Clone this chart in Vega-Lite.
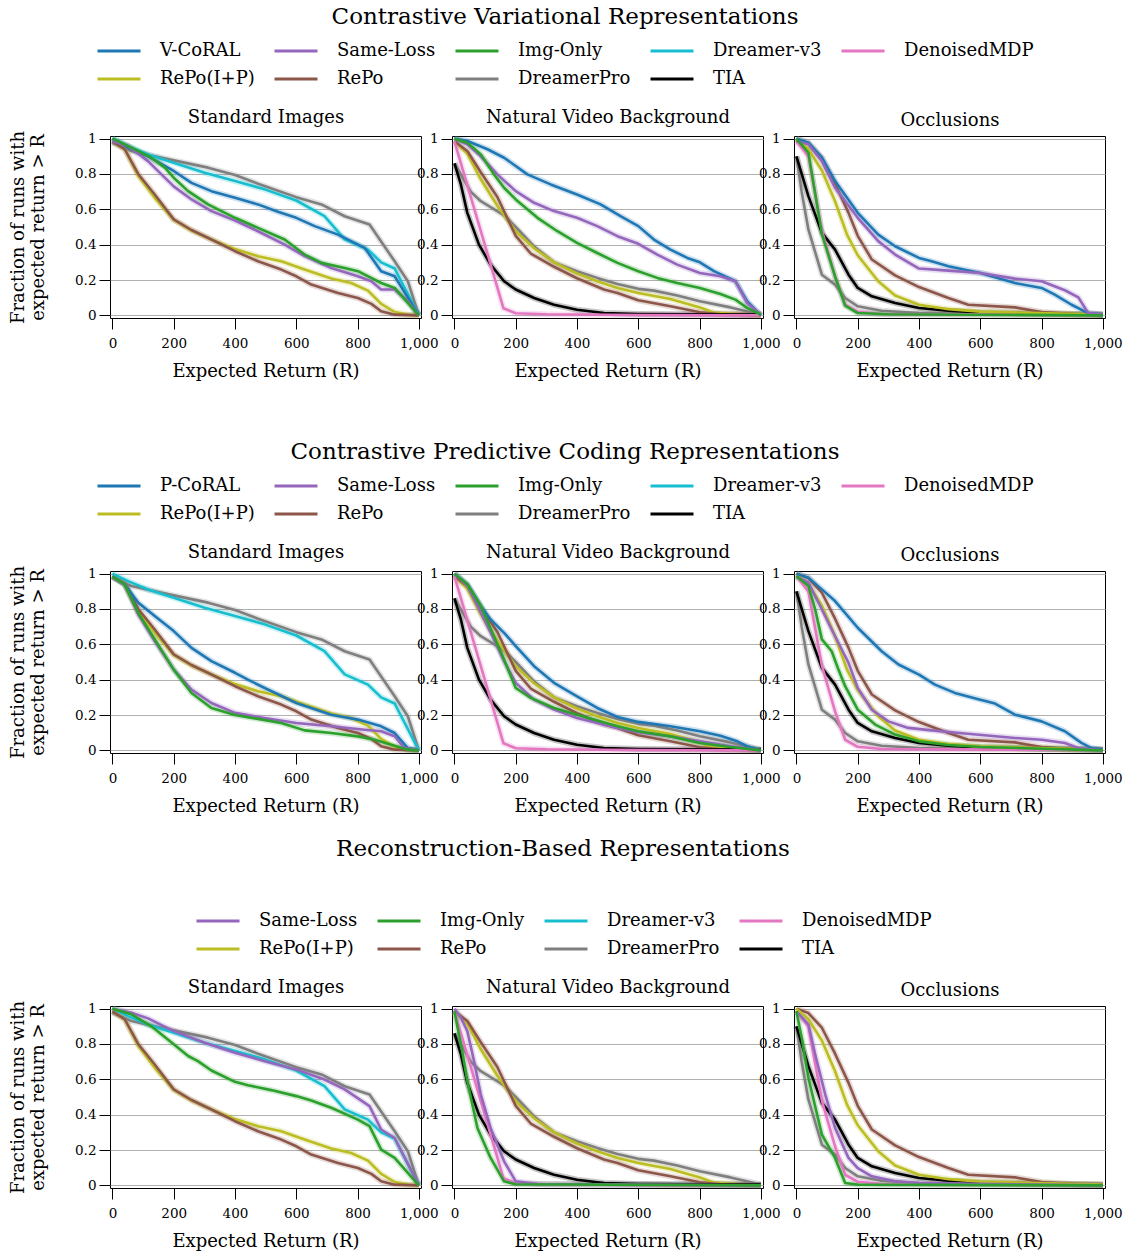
{
  "$schema": "https://vega.github.io/schema/vega-lite/v6.json",
  "padding": {"left": 9, "top": 5, "right": 2, "bottom": 2},
  "datasets": {
    "runs": [
      {"s":"B","p":"SI","m":"DreamerPro","r":0,"f":0.977},{"s":"B","p":"SI","m":"DreamerPro","r":62,"f":0.93},{"s":"B","p":"SI","m":"DreamerPro","r":127,"f":0.905},{"s":"B","p":"SI","m":"DreamerPro","r":200,"f":0.877},{"s":"B","p":"SI","m":"DreamerPro","r":312,"f":0.836},{"s":"B","p":"SI","m":"DreamerPro","r":400,"f":0.794},{"s":"B","p":"SI","m":"DreamerPro","r":475,"f":0.745},{"s":"B","p":"SI","m":"DreamerPro","r":600,"f":0.669},{"s":"B","p":"SI","m":"DreamerPro","r":682,"f":0.628},{"s":"B","p":"SI","m":"DreamerPro","r":758,"f":0.561},{"s":"B","p":"SI","m":"DreamerPro","r":839,"f":0.514},{"s":"B","p":"SI","m":"DreamerPro","r":921,"f":0.306},{"s":"B","p":"SI","m":"DreamerPro","r":964,"f":0.193},{"s":"B","p":"SI","m":"DreamerPro","r":1000,"f":0},
      {"s":"B","p":"SI","m":"Dreamer-v3","r":0,"f":1},{"s":"B","p":"SI","m":"Dreamer-v3","r":51,"f":0.958},{"s":"B","p":"SI","m":"Dreamer-v3","r":116,"f":0.91},{"s":"B","p":"SI","m":"Dreamer-v3","r":200,"f":0.864},{"s":"B","p":"SI","m":"Dreamer-v3","r":301,"f":0.807},{"s":"B","p":"SI","m":"Dreamer-v3","r":400,"f":0.76},{"s":"B","p":"SI","m":"Dreamer-v3","r":497,"f":0.713},{"s":"B","p":"SI","m":"Dreamer-v3","r":600,"f":0.65},{"s":"B","p":"SI","m":"Dreamer-v3","r":692,"f":0.561},{"s":"B","p":"SI","m":"Dreamer-v3","r":758,"f":0.43},{"s":"B","p":"SI","m":"Dreamer-v3","r":834,"f":0.372},{"s":"B","p":"SI","m":"Dreamer-v3","r":877,"f":0.3},{"s":"B","p":"SI","m":"Dreamer-v3","r":921,"f":0.265},{"s":"B","p":"SI","m":"Dreamer-v3","r":1000,"f":0},
      {"s":"B","p":"SI","m":"RePo(I+P)","r":0,"f":0.985},{"s":"B","p":"SI","m":"RePo(I+P)","r":40,"f":0.94},{"s":"B","p":"SI","m":"RePo(I+P)","r":84,"f":0.79},{"s":"B","p":"SI","m":"RePo(I+P)","r":138,"f":0.665},{"s":"B","p":"SI","m":"RePo(I+P)","r":200,"f":0.54},{"s":"B","p":"SI","m":"RePo(I+P)","r":258,"f":0.48},{"s":"B","p":"SI","m":"RePo(I+P)","r":323,"f":0.429},{"s":"B","p":"SI","m":"RePo(I+P)","r":400,"f":0.375},{"s":"B","p":"SI","m":"RePo(I+P)","r":475,"f":0.335},{"s":"B","p":"SI","m":"RePo(I+P)","r":551,"f":0.306},{"s":"B","p":"SI","m":"RePo(I+P)","r":627,"f":0.259},{"s":"B","p":"SI","m":"RePo(I+P)","r":714,"f":0.208},{"s":"B","p":"SI","m":"RePo(I+P)","r":779,"f":0.183},{"s":"B","p":"SI","m":"RePo(I+P)","r":834,"f":0.14},{"s":"B","p":"SI","m":"RePo(I+P)","r":877,"f":0.065},{"s":"B","p":"SI","m":"RePo(I+P)","r":921,"f":0.019},{"s":"B","p":"SI","m":"RePo(I+P)","r":964,"f":0.004},{"s":"B","p":"SI","m":"RePo(I+P)","r":1000,"f":0},
      {"s":"B","p":"SI","m":"RePo","r":0,"f":0.985},{"s":"B","p":"SI","m":"RePo","r":40,"f":0.94},{"s":"B","p":"SI","m":"RePo","r":84,"f":0.8},{"s":"B","p":"SI","m":"RePo","r":138,"f":0.684},{"s":"B","p":"SI","m":"RePo","r":200,"f":0.543},{"s":"B","p":"SI","m":"RePo","r":258,"f":0.483},{"s":"B","p":"SI","m":"RePo","r":323,"f":0.429},{"s":"B","p":"SI","m":"RePo","r":400,"f":0.363},{"s":"B","p":"SI","m":"RePo","r":475,"f":0.306},{"s":"B","p":"SI","m":"RePo","r":551,"f":0.259},{"s":"B","p":"SI","m":"RePo","r":600,"f":0.221},{"s":"B","p":"SI","m":"RePo","r":649,"f":0.174},{"s":"B","p":"SI","m":"RePo","r":736,"f":0.127},{"s":"B","p":"SI","m":"RePo","r":801,"f":0.098},{"s":"B","p":"SI","m":"RePo","r":845,"f":0.065},{"s":"B","p":"SI","m":"RePo","r":877,"f":0.023},{"s":"B","p":"SI","m":"RePo","r":921,"f":0.004},{"s":"B","p":"SI","m":"RePo","r":1000,"f":0},

      {"s":"B","p":"NV","m":"DreamerPro","r":0,"f":0.86},{"s":"B","p":"NV","m":"DreamerPro","r":21,"f":0.798},{"s":"B","p":"NV","m":"DreamerPro","r":53,"f":0.7},{"s":"B","p":"NV","m":"DreamerPro","r":86,"f":0.646},{"s":"B","p":"NV","m":"DreamerPro","r":130,"f":0.6},{"s":"B","p":"NV","m":"DreamerPro","r":162,"f":0.565},{"s":"B","p":"NV","m":"DreamerPro","r":200,"f":0.5},{"s":"B","p":"NV","m":"DreamerPro","r":260,"f":0.39},{"s":"B","p":"NV","m":"DreamerPro","r":325,"f":0.3},{"s":"B","p":"NV","m":"DreamerPro","r":400,"f":0.25},{"s":"B","p":"NV","m":"DreamerPro","r":466,"f":0.212},{"s":"B","p":"NV","m":"DreamerPro","r":532,"f":0.178},{"s":"B","p":"NV","m":"DreamerPro","r":600,"f":0.15},{"s":"B","p":"NV","m":"DreamerPro","r":651,"f":0.14},{"s":"B","p":"NV","m":"DreamerPro","r":727,"f":0.112},{"s":"B","p":"NV","m":"DreamerPro","r":801,"f":0.08},{"s":"B","p":"NV","m":"DreamerPro","r":901,"f":0.045},{"s":"B","p":"NV","m":"DreamerPro","r":1000,"f":0.005},
      {"s":"B","p":"NV","m":"RePo(I+P)","r":0,"f":0.985},{"s":"B","p":"NV","m":"RePo(I+P)","r":42,"f":0.915},{"s":"B","p":"NV","m":"RePo(I+P)","r":86,"f":0.77},{"s":"B","p":"NV","m":"RePo(I+P)","r":140,"f":0.62},{"s":"B","p":"NV","m":"RePo(I+P)","r":200,"f":0.476},{"s":"B","p":"NV","m":"RePo(I+P)","r":260,"f":0.38},{"s":"B","p":"NV","m":"RePo(I+P)","r":325,"f":0.3},{"s":"B","p":"NV","m":"RePo(I+P)","r":400,"f":0.237},{"s":"B","p":"NV","m":"RePo(I+P)","r":466,"f":0.193},{"s":"B","p":"NV","m":"RePo(I+P)","r":532,"f":0.155},{"s":"B","p":"NV","m":"RePo(I+P)","r":600,"f":0.127},{"s":"B","p":"NV","m":"RePo(I+P)","r":705,"f":0.092},{"s":"B","p":"NV","m":"RePo(I+P)","r":801,"f":0.045},{"s":"B","p":"NV","m":"RePo(I+P)","r":847,"f":0.015},{"s":"B","p":"NV","m":"RePo(I+P)","r":1000,"f":0},
      {"s":"B","p":"NV","m":"RePo","r":0,"f":0.985},{"s":"B","p":"NV","m":"RePo","r":42,"f":0.93},{"s":"B","p":"NV","m":"RePo","r":86,"f":0.81},{"s":"B","p":"NV","m":"RePo","r":140,"f":0.67},{"s":"B","p":"NV","m":"RePo","r":200,"f":0.45},{"s":"B","p":"NV","m":"RePo","r":249,"f":0.35},{"s":"B","p":"NV","m":"RePo","r":325,"f":0.275},{"s":"B","p":"NV","m":"RePo","r":400,"f":0.21},{"s":"B","p":"NV","m":"RePo","r":488,"f":0.146},{"s":"B","p":"NV","m":"RePo","r":532,"f":0.127},{"s":"B","p":"NV","m":"RePo","r":600,"f":0.085},{"s":"B","p":"NV","m":"RePo","r":705,"f":0.051},{"s":"B","p":"NV","m":"RePo","r":801,"f":0.017},{"s":"B","p":"NV","m":"RePo","r":868,"f":0.006},{"s":"B","p":"NV","m":"RePo","r":1000,"f":0},
      {"s":"B","p":"NV","m":"TIA","r":0,"f":0.86},{"s":"B","p":"NV","m":"TIA","r":21,"f":0.741},{"s":"B","p":"NV","m":"TIA","r":42,"f":0.58},{"s":"B","p":"NV","m":"TIA","r":80,"f":0.4},{"s":"B","p":"NV","m":"TIA","r":118,"f":0.287},{"s":"B","p":"NV","m":"TIA","r":162,"f":0.193},{"s":"B","p":"NV","m":"TIA","r":200,"f":0.146},{"s":"B","p":"NV","m":"TIA","r":260,"f":0.098},{"s":"B","p":"NV","m":"TIA","r":325,"f":0.06},{"s":"B","p":"NV","m":"TIA","r":400,"f":0.032},{"s":"B","p":"NV","m":"TIA","r":488,"f":0.013},{"s":"B","p":"NV","m":"TIA","r":600,"f":0.008},{"s":"B","p":"NV","m":"TIA","r":1000,"f":0.004},
      {"s":"B","p":"NV","m":"DenoisedMDP","r":0,"f":0.985},{"s":"B","p":"NV","m":"DenoisedMDP","r":160,"f":0.04},{"s":"B","p":"NV","m":"DenoisedMDP","r":200,"f":0.012},{"s":"B","p":"NV","m":"DenoisedMDP","r":300,"f":0.006},{"s":"B","p":"NV","m":"DenoisedMDP","r":600,"f":0.002},{"s":"B","p":"NV","m":"DenoisedMDP","r":1000,"f":0},

      {"s":"B","p":"OC","m":"DreamerPro","r":0,"f":0.9},{"s":"B","p":"OC","m":"DreamerPro","r":17,"f":0.7},{"s":"B","p":"OC","m":"DreamerPro","r":39,"f":0.486},{"s":"B","p":"OC","m":"DreamerPro","r":83,"f":0.23},{"s":"B","p":"OC","m":"DreamerPro","r":126,"f":0.174},{"s":"B","p":"OC","m":"DreamerPro","r":159,"f":0.098},{"s":"B","p":"OC","m":"DreamerPro","r":200,"f":0.051},{"s":"B","p":"OC","m":"DreamerPro","r":278,"f":0.026},{"s":"B","p":"OC","m":"DreamerPro","r":400,"f":0.013},{"s":"B","p":"OC","m":"DreamerPro","r":1000,"f":0.004},
      {"s":"B","p":"OC","m":"TIA","r":0,"f":0.9},{"s":"B","p":"OC","m":"TIA","r":39,"f":0.675},{"s":"B","p":"OC","m":"TIA","r":83,"f":0.467},{"s":"B","p":"OC","m":"TIA","r":126,"f":0.372},{"s":"B","p":"OC","m":"TIA","r":170,"f":0.23},{"s":"B","p":"OC","m":"TIA","r":200,"f":0.155},{"s":"B","p":"OC","m":"TIA","r":246,"f":0.108},{"s":"B","p":"OC","m":"TIA","r":322,"f":0.07},{"s":"B","p":"OC","m":"TIA","r":400,"f":0.042},{"s":"B","p":"OC","m":"TIA","r":496,"f":0.026},{"s":"B","p":"OC","m":"TIA","r":600,"f":0.017},{"s":"B","p":"OC","m":"TIA","r":800,"f":0.009},{"s":"B","p":"OC","m":"TIA","r":1000,"f":0.004},
      {"s":"B","p":"OC","m":"DenoisedMDP","r":0,"f":0.985},{"s":"B","p":"OC","m":"DenoisedMDP","r":39,"f":0.9},{"s":"B","p":"OC","m":"DenoisedMDP","r":83,"f":0.48},{"s":"B","p":"OC","m":"DenoisedMDP","r":126,"f":0.22},{"s":"B","p":"OC","m":"DenoisedMDP","r":159,"f":0.06},{"s":"B","p":"OC","m":"DenoisedMDP","r":200,"f":0.02},{"s":"B","p":"OC","m":"DenoisedMDP","r":278,"f":0.008},{"s":"B","p":"OC","m":"DenoisedMDP","r":1000,"f":0.002},
      {"s":"B","p":"OC","m":"RePo","r":0,"f":1},{"s":"B","p":"OC","m":"RePo","r":39,"f":0.975},{"s":"B","p":"OC","m":"RePo","r":83,"f":0.892},{"s":"B","p":"OC","m":"RePo","r":126,"f":0.745},{"s":"B","p":"OC","m":"RePo","r":170,"f":0.58},{"s":"B","p":"OC","m":"RePo","r":200,"f":0.45},{"s":"B","p":"OC","m":"RePo","r":246,"f":0.316},{"s":"B","p":"OC","m":"RePo","r":322,"f":0.226},{"s":"B","p":"OC","m":"RePo","r":400,"f":0.16},{"s":"B","p":"OC","m":"RePo","r":496,"f":0.098},{"s":"B","p":"OC","m":"RePo","r":561,"f":0.06},{"s":"B","p":"OC","m":"RePo","r":713,"f":0.045},{"s":"B","p":"OC","m":"RePo","r":800,"f":0.019},{"s":"B","p":"OC","m":"RePo","r":898,"f":0.008},{"s":"B","p":"OC","m":"RePo","r":1000,"f":0.004},
      {"s":"B","p":"OC","m":"RePo(I+P)","r":0,"f":1},{"s":"B","p":"OC","m":"RePo(I+P)","r":39,"f":0.94},{"s":"B","p":"OC","m":"RePo(I+P)","r":83,"f":0.82},{"s":"B","p":"OC","m":"RePo(I+P)","r":126,"f":0.646},{"s":"B","p":"OC","m":"RePo(I+P)","r":165,"f":0.457},{"s":"B","p":"OC","m":"RePo(I+P)","r":200,"f":0.34},{"s":"B","p":"OC","m":"RePo(I+P)","r":267,"f":0.193},{"s":"B","p":"OC","m":"RePo(I+P)","r":322,"f":0.112},{"s":"B","p":"OC","m":"RePo(I+P)","r":400,"f":0.06},{"s":"B","p":"OC","m":"RePo(I+P)","r":496,"f":0.035},{"s":"B","p":"OC","m":"RePo(I+P)","r":600,"f":0.021},{"s":"B","p":"OC","m":"RePo(I+P)","r":1000,"f":0.004},

      {"s":"CV","p":"SI","m":"V-CoRAL","r":0,"f":1},{"s":"CV","p":"SI","m":"V-CoRAL","r":62,"f":0.94},{"s":"CV","p":"SI","m":"V-CoRAL","r":116,"f":0.9},{"s":"CV","p":"SI","m":"V-CoRAL","r":200,"f":0.817},{"s":"CV","p":"SI","m":"V-CoRAL","r":258,"f":0.75},{"s":"CV","p":"SI","m":"V-CoRAL","r":323,"f":0.703},{"s":"CV","p":"SI","m":"V-CoRAL","r":400,"f":0.665},{"s":"CV","p":"SI","m":"V-CoRAL","r":475,"f":0.628},{"s":"CV","p":"SI","m":"V-CoRAL","r":540,"f":0.586},{"s":"CV","p":"SI","m":"V-CoRAL","r":600,"f":0.552},{"s":"CV","p":"SI","m":"V-CoRAL","r":660,"f":0.505},{"s":"CV","p":"SI","m":"V-CoRAL","r":736,"f":0.457},{"s":"CV","p":"SI","m":"V-CoRAL","r":823,"f":0.382},{"s":"CV","p":"SI","m":"V-CoRAL","r":877,"f":0.25},{"s":"CV","p":"SI","m":"V-CoRAL","r":921,"f":0.221},{"s":"CV","p":"SI","m":"V-CoRAL","r":1000,"f":0},
      {"s":"CV","p":"SI","m":"Same-Loss","r":0,"f":0.985},{"s":"CV","p":"SI","m":"Same-Loss","r":51,"f":0.958},{"s":"CV","p":"SI","m":"Same-Loss","r":116,"f":0.873},{"s":"CV","p":"SI","m":"Same-Loss","r":200,"f":0.73},{"s":"CV","p":"SI","m":"Same-Loss","r":258,"f":0.656},{"s":"CV","p":"SI","m":"Same-Loss","r":323,"f":0.59},{"s":"CV","p":"SI","m":"Same-Loss","r":400,"f":0.537},{"s":"CV","p":"SI","m":"Same-Loss","r":475,"f":0.476},{"s":"CV","p":"SI","m":"Same-Loss","r":562,"f":0.4},{"s":"CV","p":"SI","m":"Same-Loss","r":627,"f":0.335},{"s":"CV","p":"SI","m":"Same-Loss","r":714,"f":0.268},{"s":"CV","p":"SI","m":"Same-Loss","r":801,"f":0.221},{"s":"CV","p":"SI","m":"Same-Loss","r":845,"f":0.193},{"s":"CV","p":"SI","m":"Same-Loss","r":877,"f":0.146},{"s":"CV","p":"SI","m":"Same-Loss","r":921,"f":0.146},{"s":"CV","p":"SI","m":"Same-Loss","r":964,"f":0.08},{"s":"CV","p":"SI","m":"Same-Loss","r":1000,"f":0},
      {"s":"CV","p":"SI","m":"Img-Only","r":0,"f":1},{"s":"CV","p":"SI","m":"Img-Only","r":62,"f":0.949},{"s":"CV","p":"SI","m":"Img-Only","r":127,"f":0.892},{"s":"CV","p":"SI","m":"Img-Only","r":171,"f":0.836},{"s":"CV","p":"SI","m":"Img-Only","r":200,"f":0.779},{"s":"CV","p":"SI","m":"Img-Only","r":247,"f":0.703},{"s":"CV","p":"SI","m":"Img-Only","r":312,"f":0.628},{"s":"CV","p":"SI","m":"Img-Only","r":400,"f":0.552},{"s":"CV","p":"SI","m":"Img-Only","r":475,"f":0.495},{"s":"CV","p":"SI","m":"Img-Only","r":562,"f":0.429},{"s":"CV","p":"SI","m":"Img-Only","r":627,"f":0.344},{"s":"CV","p":"SI","m":"Img-Only","r":682,"f":0.297},{"s":"CV","p":"SI","m":"Img-Only","r":758,"f":0.268},{"s":"CV","p":"SI","m":"Img-Only","r":801,"f":0.25},{"s":"CV","p":"SI","m":"Img-Only","r":877,"f":0.183},{"s":"CV","p":"SI","m":"Img-Only","r":921,"f":0.155},{"s":"CV","p":"SI","m":"Img-Only","r":1000,"f":0},
      {"s":"CV","p":"NV","m":"V-CoRAL","r":0,"f":1},{"s":"CV","p":"NV","m":"V-CoRAL","r":42,"f":0.987},{"s":"CV","p":"NV","m":"V-CoRAL","r":108,"f":0.94},{"s":"CV","p":"NV","m":"V-CoRAL","r":162,"f":0.892},{"s":"CV","p":"NV","m":"V-CoRAL","r":238,"f":0.798},{"s":"CV","p":"NV","m":"V-CoRAL","r":314,"f":0.741},{"s":"CV","p":"NV","m":"V-CoRAL","r":400,"f":0.684},{"s":"CV","p":"NV","m":"V-CoRAL","r":477,"f":0.628},{"s":"CV","p":"NV","m":"V-CoRAL","r":542,"f":0.561},{"s":"CV","p":"NV","m":"V-CoRAL","r":600,"f":0.505},{"s":"CV","p":"NV","m":"V-CoRAL","r":651,"f":0.429},{"s":"CV","p":"NV","m":"V-CoRAL","r":705,"f":0.372},{"s":"CV","p":"NV","m":"V-CoRAL","r":760,"f":0.325},{"s":"CV","p":"NV","m":"V-CoRAL","r":801,"f":0.3},{"s":"CV","p":"NV","m":"V-CoRAL","r":847,"f":0.25},{"s":"CV","p":"NV","m":"V-CoRAL","r":917,"f":0.193},{"s":"CV","p":"NV","m":"V-CoRAL","r":955,"f":0.08},{"s":"CV","p":"NV","m":"V-CoRAL","r":993,"f":0.013},{"s":"CV","p":"NV","m":"V-CoRAL","r":1000,"f":0},
      {"s":"CV","p":"NV","m":"Same-Loss","r":0,"f":1},{"s":"CV","p":"NV","m":"Same-Loss","r":42,"f":0.968},{"s":"CV","p":"NV","m":"Same-Loss","r":86,"f":0.9},{"s":"CV","p":"NV","m":"Same-Loss","r":140,"f":0.798},{"s":"CV","p":"NV","m":"Same-Loss","r":200,"f":0.703},{"s":"CV","p":"NV","m":"Same-Loss","r":260,"f":0.637},{"s":"CV","p":"NV","m":"Same-Loss","r":325,"f":0.59},{"s":"CV","p":"NV","m":"Same-Loss","r":400,"f":0.552},{"s":"CV","p":"NV","m":"Same-Loss","r":466,"f":0.505},{"s":"CV","p":"NV","m":"Same-Loss","r":532,"f":0.448},{"s":"CV","p":"NV","m":"Same-Loss","r":600,"f":0.405},{"s":"CV","p":"NV","m":"Same-Loss","r":662,"f":0.344},{"s":"CV","p":"NV","m":"Same-Loss","r":727,"f":0.287},{"s":"CV","p":"NV","m":"Same-Loss","r":801,"f":0.24},{"s":"CV","p":"NV","m":"Same-Loss","r":868,"f":0.221},{"s":"CV","p":"NV","m":"Same-Loss","r":917,"f":0.193},{"s":"CV","p":"NV","m":"Same-Loss","r":955,"f":0.07},{"s":"CV","p":"NV","m":"Same-Loss","r":993,"f":0.013},{"s":"CV","p":"NV","m":"Same-Loss","r":1000,"f":0},
      {"s":"CV","p":"NV","m":"Img-Only","r":0,"f":1},{"s":"CV","p":"NV","m":"Img-Only","r":42,"f":0.977},{"s":"CV","p":"NV","m":"Img-Only","r":86,"f":0.911},{"s":"CV","p":"NV","m":"Img-Only","r":129,"f":0.798},{"s":"CV","p":"NV","m":"Img-Only","r":162,"f":0.722},{"s":"CV","p":"NV","m":"Img-Only","r":200,"f":0.656},{"s":"CV","p":"NV","m":"Img-Only","r":271,"f":0.552},{"s":"CV","p":"NV","m":"Img-Only","r":336,"f":0.476},{"s":"CV","p":"NV","m":"Img-Only","r":400,"f":0.41},{"s":"CV","p":"NV","m":"Img-Only","r":466,"f":0.353},{"s":"CV","p":"NV","m":"Img-Only","r":532,"f":0.297},{"s":"CV","p":"NV","m":"Img-Only","r":600,"f":0.25},{"s":"CV","p":"NV","m":"Img-Only","r":662,"f":0.212},{"s":"CV","p":"NV","m":"Img-Only","r":727,"f":0.183},{"s":"CV","p":"NV","m":"Img-Only","r":801,"f":0.155},{"s":"CV","p":"NV","m":"Img-Only","r":868,"f":0.121},{"s":"CV","p":"NV","m":"Img-Only","r":917,"f":0.089},{"s":"CV","p":"NV","m":"Img-Only","r":955,"f":0.042},{"s":"CV","p":"NV","m":"Img-Only","r":993,"f":0.01},{"s":"CV","p":"NV","m":"Img-Only","r":1000,"f":0},
      {"s":"CV","p":"OC","m":"V-CoRAL","r":0,"f":1},{"s":"CV","p":"OC","m":"V-CoRAL","r":39,"f":0.977},{"s":"CV","p":"OC","m":"V-CoRAL","r":83,"f":0.892},{"s":"CV","p":"OC","m":"V-CoRAL","r":126,"f":0.76},{"s":"CV","p":"OC","m":"V-CoRAL","r":200,"f":0.58},{"s":"CV","p":"OC","m":"V-CoRAL","r":267,"f":0.457},{"s":"CV","p":"OC","m":"V-CoRAL","r":322,"f":0.391},{"s":"CV","p":"OC","m":"V-CoRAL","r":400,"f":0.325},{"s":"CV","p":"OC","m":"V-CoRAL","r":441,"f":0.306},{"s":"CV","p":"OC","m":"V-CoRAL","r":496,"f":0.278},{"s":"CV","p":"OC","m":"V-CoRAL","r":600,"f":0.24},{"s":"CV","p":"OC","m":"V-CoRAL","r":648,"f":0.215},{"s":"CV","p":"OC","m":"V-CoRAL","r":713,"f":0.183},{"s":"CV","p":"OC","m":"V-CoRAL","r":800,"f":0.155},{"s":"CV","p":"OC","m":"V-CoRAL","r":843,"f":0.117},{"s":"CV","p":"OC","m":"V-CoRAL","r":898,"f":0.06},{"s":"CV","p":"OC","m":"V-CoRAL","r":952,"f":0.013},{"s":"CV","p":"OC","m":"V-CoRAL","r":1000,"f":0.004},
      {"s":"CV","p":"OC","m":"Same-Loss","r":0,"f":0.985},{"s":"CV","p":"OC","m":"Same-Loss","r":39,"f":0.968},{"s":"CV","p":"OC","m":"Same-Loss","r":83,"f":0.873},{"s":"CV","p":"OC","m":"Same-Loss","r":126,"f":0.722},{"s":"CV","p":"OC","m":"Same-Loss","r":200,"f":0.552},{"s":"CV","p":"OC","m":"Same-Loss","r":267,"f":0.42},{"s":"CV","p":"OC","m":"Same-Loss","r":322,"f":0.344},{"s":"CV","p":"OC","m":"Same-Loss","r":400,"f":0.265},{"s":"CV","p":"OC","m":"Same-Loss","r":496,"f":0.253},{"s":"CV","p":"OC","m":"Same-Loss","r":600,"f":0.24},{"s":"CV","p":"OC","m":"Same-Loss","r":713,"f":0.208},{"s":"CV","p":"OC","m":"Same-Loss","r":800,"f":0.193},{"s":"CV","p":"OC","m":"Same-Loss","r":876,"f":0.142},{"s":"CV","p":"OC","m":"Same-Loss","r":920,"f":0.102},{"s":"CV","p":"OC","m":"Same-Loss","r":952,"f":0.013},{"s":"CV","p":"OC","m":"Same-Loss","r":1000,"f":0.004},
      {"s":"CV","p":"OC","m":"Img-Only","r":0,"f":1},{"s":"CV","p":"OC","m":"Img-Only","r":39,"f":0.92},{"s":"CV","p":"OC","m":"Img-Only","r":83,"f":0.46},{"s":"CV","p":"OC","m":"Img-Only","r":126,"f":0.22},{"s":"CV","p":"OC","m":"Img-Only","r":159,"f":0.055},{"s":"CV","p":"OC","m":"Img-Only","r":200,"f":0.013},{"s":"CV","p":"OC","m":"Img-Only","r":300,"f":0.006},{"s":"CV","p":"OC","m":"Img-Only","r":1000,"f":0},

      {"s":"CPC","p":"SI","m":"P-CoRAL","r":0,"f":0.985},{"s":"CPC","p":"SI","m":"P-CoRAL","r":40,"f":0.94},{"s":"CPC","p":"SI","m":"P-CoRAL","r":84,"f":0.836},{"s":"CPC","p":"SI","m":"P-CoRAL","r":138,"f":0.76},{"s":"CPC","p":"SI","m":"P-CoRAL","r":200,"f":0.675},{"s":"CPC","p":"SI","m":"P-CoRAL","r":258,"f":0.58},{"s":"CPC","p":"SI","m":"P-CoRAL","r":323,"f":0.505},{"s":"CPC","p":"SI","m":"P-CoRAL","r":400,"f":0.439},{"s":"CPC","p":"SI","m":"P-CoRAL","r":442,"f":0.4},{"s":"CPC","p":"SI","m":"P-CoRAL","r":497,"f":0.353},{"s":"CPC","p":"SI","m":"P-CoRAL","r":600,"f":0.268},{"s":"CPC","p":"SI","m":"P-CoRAL","r":714,"f":0.202},{"s":"CPC","p":"SI","m":"P-CoRAL","r":801,"f":0.174},{"s":"CPC","p":"SI","m":"P-CoRAL","r":877,"f":0.136},{"s":"CPC","p":"SI","m":"P-CoRAL","r":921,"f":0.098},{"s":"CPC","p":"SI","m":"P-CoRAL","r":964,"f":0.013},{"s":"CPC","p":"SI","m":"P-CoRAL","r":1000,"f":0},
      {"s":"CPC","p":"SI","m":"Same-Loss","r":0,"f":0.985},{"s":"CPC","p":"SI","m":"Same-Loss","r":40,"f":0.94},{"s":"CPC","p":"SI","m":"Same-Loss","r":84,"f":0.77},{"s":"CPC","p":"SI","m":"Same-Loss","r":138,"f":0.618},{"s":"CPC","p":"SI","m":"Same-Loss","r":200,"f":0.457},{"s":"CPC","p":"SI","m":"Same-Loss","r":258,"f":0.344},{"s":"CPC","p":"SI","m":"Same-Loss","r":323,"f":0.268},{"s":"CPC","p":"SI","m":"Same-Loss","r":400,"f":0.212},{"s":"CPC","p":"SI","m":"Same-Loss","r":475,"f":0.189},{"s":"CPC","p":"SI","m":"Same-Loss","r":600,"f":0.155},{"s":"CPC","p":"SI","m":"Same-Loss","r":714,"f":0.136},{"s":"CPC","p":"SI","m":"Same-Loss","r":823,"f":0.117},{"s":"CPC","p":"SI","m":"Same-Loss","r":877,"f":0.108},{"s":"CPC","p":"SI","m":"Same-Loss","r":921,"f":0.08},{"s":"CPC","p":"SI","m":"Same-Loss","r":953,"f":0.013},{"s":"CPC","p":"SI","m":"Same-Loss","r":1000,"f":0},
      {"s":"CPC","p":"SI","m":"Img-Only","r":0,"f":0.985},{"s":"CPC","p":"SI","m":"Img-Only","r":40,"f":0.94},{"s":"CPC","p":"SI","m":"Img-Only","r":84,"f":0.779},{"s":"CPC","p":"SI","m":"Img-Only","r":138,"f":0.628},{"s":"CPC","p":"SI","m":"Img-Only","r":200,"f":0.457},{"s":"CPC","p":"SI","m":"Img-Only","r":258,"f":0.325},{"s":"CPC","p":"SI","m":"Img-Only","r":323,"f":0.24},{"s":"CPC","p":"SI","m":"Img-Only","r":400,"f":0.2},{"s":"CPC","p":"SI","m":"Img-Only","r":475,"f":0.178},{"s":"CPC","p":"SI","m":"Img-Only","r":551,"f":0.155},{"s":"CPC","p":"SI","m":"Img-Only","r":627,"f":0.113},{"s":"CPC","p":"SI","m":"Img-Only","r":714,"f":0.098},{"s":"CPC","p":"SI","m":"Img-Only","r":801,"f":0.079},{"s":"CPC","p":"SI","m":"Img-Only","r":856,"f":0.06},{"s":"CPC","p":"SI","m":"Img-Only","r":921,"f":0.026},{"s":"CPC","p":"SI","m":"Img-Only","r":964,"f":0.004},{"s":"CPC","p":"SI","m":"Img-Only","r":1000,"f":0},
      {"s":"CPC","p":"NV","m":"P-CoRAL","r":0,"f":1},{"s":"CPC","p":"NV","m":"P-CoRAL","r":42,"f":0.94},{"s":"CPC","p":"NV","m":"P-CoRAL","r":86,"f":0.817},{"s":"CPC","p":"NV","m":"P-CoRAL","r":118,"f":0.741},{"s":"CPC","p":"NV","m":"P-CoRAL","r":162,"f":0.665},{"s":"CPC","p":"NV","m":"P-CoRAL","r":200,"f":0.59},{"s":"CPC","p":"NV","m":"P-CoRAL","r":260,"f":0.476},{"s":"CPC","p":"NV","m":"P-CoRAL","r":325,"f":0.382},{"s":"CPC","p":"NV","m":"P-CoRAL","r":400,"f":0.306},{"s":"CPC","p":"NV","m":"P-CoRAL","r":466,"f":0.24},{"s":"CPC","p":"NV","m":"P-CoRAL","r":532,"f":0.189},{"s":"CPC","p":"NV","m":"P-CoRAL","r":600,"f":0.161},{"s":"CPC","p":"NV","m":"P-CoRAL","r":705,"f":0.136},{"s":"CPC","p":"NV","m":"P-CoRAL","r":801,"f":0.108},{"s":"CPC","p":"NV","m":"P-CoRAL","r":868,"f":0.083},{"s":"CPC","p":"NV","m":"P-CoRAL","r":923,"f":0.051},{"s":"CPC","p":"NV","m":"P-CoRAL","r":955,"f":0.023},{"s":"CPC","p":"NV","m":"P-CoRAL","r":1000,"f":0},
      {"s":"CPC","p":"NV","m":"Same-Loss","r":0,"f":1},{"s":"CPC","p":"NV","m":"Same-Loss","r":42,"f":0.93},{"s":"CPC","p":"NV","m":"Same-Loss","r":86,"f":0.779},{"s":"CPC","p":"NV","m":"Same-Loss","r":129,"f":0.628},{"s":"CPC","p":"NV","m":"Same-Loss","r":162,"f":0.505},{"s":"CPC","p":"NV","m":"Same-Loss","r":200,"f":0.382},{"s":"CPC","p":"NV","m":"Same-Loss","r":260,"f":0.287},{"s":"CPC","p":"NV","m":"Same-Loss","r":325,"f":0.231},{"s":"CPC","p":"NV","m":"Same-Loss","r":400,"f":0.183},{"s":"CPC","p":"NV","m":"Same-Loss","r":532,"f":0.127},{"s":"CPC","p":"NV","m":"Same-Loss","r":600,"f":0.102},{"s":"CPC","p":"NV","m":"Same-Loss","r":705,"f":0.079},{"s":"CPC","p":"NV","m":"Same-Loss","r":801,"f":0.051},{"s":"CPC","p":"NV","m":"Same-Loss","r":901,"f":0.023},{"s":"CPC","p":"NV","m":"Same-Loss","r":1000,"f":0},
      {"s":"CPC","p":"NV","m":"Img-Only","r":0,"f":1},{"s":"CPC","p":"NV","m":"Img-Only","r":42,"f":0.94},{"s":"CPC","p":"NV","m":"Img-Only","r":86,"f":0.817},{"s":"CPC","p":"NV","m":"Img-Only","r":129,"f":0.646},{"s":"CPC","p":"NV","m":"Img-Only","r":162,"f":0.514},{"s":"CPC","p":"NV","m":"Img-Only","r":200,"f":0.353},{"s":"CPC","p":"NV","m":"Img-Only","r":249,"f":0.297},{"s":"CPC","p":"NV","m":"Img-Only","r":325,"f":0.24},{"s":"CPC","p":"NV","m":"Img-Only","r":400,"f":0.202},{"s":"CPC","p":"NV","m":"Img-Only","r":532,"f":0.136},{"s":"CPC","p":"NV","m":"Img-Only","r":600,"f":0.108},{"s":"CPC","p":"NV","m":"Img-Only","r":705,"f":0.079},{"s":"CPC","p":"NV","m":"Img-Only","r":801,"f":0.042},{"s":"CPC","p":"NV","m":"Img-Only","r":901,"f":0.019},{"s":"CPC","p":"NV","m":"Img-Only","r":1000,"f":0},
      {"s":"CPC","p":"OC","m":"P-CoRAL","r":0,"f":1},{"s":"CPC","p":"OC","m":"P-CoRAL","r":39,"f":0.977},{"s":"CPC","p":"OC","m":"P-CoRAL","r":83,"f":0.911},{"s":"CPC","p":"OC","m":"P-CoRAL","r":126,"f":0.845},{"s":"CPC","p":"OC","m":"P-CoRAL","r":200,"f":0.694},{"s":"CPC","p":"OC","m":"P-CoRAL","r":278,"f":0.561},{"s":"CPC","p":"OC","m":"P-CoRAL","r":333,"f":0.486},{"s":"CPC","p":"OC","m":"P-CoRAL","r":400,"f":0.429},{"s":"CPC","p":"OC","m":"P-CoRAL","r":452,"f":0.372},{"s":"CPC","p":"OC","m":"P-CoRAL","r":517,"f":0.325},{"s":"CPC","p":"OC","m":"P-CoRAL","r":600,"f":0.287},{"s":"CPC","p":"OC","m":"P-CoRAL","r":648,"f":0.265},{"s":"CPC","p":"OC","m":"P-CoRAL","r":713,"f":0.202},{"s":"CPC","p":"OC","m":"P-CoRAL","r":800,"f":0.164},{"s":"CPC","p":"OC","m":"P-CoRAL","r":876,"f":0.108},{"s":"CPC","p":"OC","m":"P-CoRAL","r":930,"f":0.042},{"s":"CPC","p":"OC","m":"P-CoRAL","r":963,"f":0.013},{"s":"CPC","p":"OC","m":"P-CoRAL","r":1000,"f":0.004},
      {"s":"CPC","p":"OC","m":"Same-Loss","r":0,"f":0.985},{"s":"CPC","p":"OC","m":"Same-Loss","r":39,"f":0.949},{"s":"CPC","p":"OC","m":"Same-Loss","r":83,"f":0.798},{"s":"CPC","p":"OC","m":"Same-Loss","r":126,"f":0.646},{"s":"CPC","p":"OC","m":"Same-Loss","r":170,"f":0.495},{"s":"CPC","p":"OC","m":"Same-Loss","r":200,"f":0.353},{"s":"CPC","p":"OC","m":"Same-Loss","r":246,"f":0.23},{"s":"CPC","p":"OC","m":"Same-Loss","r":300,"f":0.164},{"s":"CPC","p":"OC","m":"Same-Loss","r":365,"f":0.127},{"s":"CPC","p":"OC","m":"Same-Loss","r":441,"f":0.113},{"s":"CPC","p":"OC","m":"Same-Loss","r":550,"f":0.095},{"s":"CPC","p":"OC","m":"Same-Loss","r":713,"f":0.07},{"s":"CPC","p":"OC","m":"Same-Loss","r":800,"f":0.06},{"s":"CPC","p":"OC","m":"Same-Loss","r":876,"f":0.042},{"s":"CPC","p":"OC","m":"Same-Loss","r":920,"f":0.013},{"s":"CPC","p":"OC","m":"Same-Loss","r":1000,"f":0},
      {"s":"CPC","p":"OC","m":"Img-Only","r":0,"f":0.985},{"s":"CPC","p":"OC","m":"Img-Only","r":39,"f":0.93},{"s":"CPC","p":"OC","m":"Img-Only","r":61,"f":0.798},{"s":"CPC","p":"OC","m":"Img-Only","r":83,"f":0.628},{"s":"CPC","p":"OC","m":"Img-Only","r":115,"f":0.561},{"s":"CPC","p":"OC","m":"Img-Only","r":137,"f":0.457},{"s":"CPC","p":"OC","m":"Img-Only","r":159,"f":0.363},{"s":"CPC","p":"OC","m":"Img-Only","r":200,"f":0.23},{"s":"CPC","p":"OC","m":"Img-Only","r":257,"f":0.146},{"s":"CPC","p":"OC","m":"Img-Only","r":322,"f":0.089},{"s":"CPC","p":"OC","m":"Img-Only","r":400,"f":0.051},{"s":"CPC","p":"OC","m":"Img-Only","r":496,"f":0.03},{"s":"CPC","p":"OC","m":"Img-Only","r":600,"f":0.019},{"s":"CPC","p":"OC","m":"Img-Only","r":1000,"f":0},

      {"s":"REC","p":"SI","m":"Same-Loss","r":0,"f":1},{"s":"REC","p":"SI","m":"Same-Loss","r":62,"f":0.977},{"s":"REC","p":"SI","m":"Same-Loss","r":116,"f":0.945},{"s":"REC","p":"SI","m":"Same-Loss","r":200,"f":0.873},{"s":"REC","p":"SI","m":"Same-Loss","r":301,"f":0.807},{"s":"REC","p":"SI","m":"Same-Loss","r":400,"f":0.75},{"s":"REC","p":"SI","m":"Same-Loss","r":497,"f":0.703},{"s":"REC","p":"SI","m":"Same-Loss","r":600,"f":0.656},{"s":"REC","p":"SI","m":"Same-Loss","r":692,"f":0.599},{"s":"REC","p":"SI","m":"Same-Loss","r":758,"f":0.543},{"s":"REC","p":"SI","m":"Same-Loss","r":839,"f":0.448},{"s":"REC","p":"SI","m":"Same-Loss","r":877,"f":0.316},{"s":"REC","p":"SI","m":"Same-Loss","r":921,"f":0.268},{"s":"REC","p":"SI","m":"Same-Loss","r":1000,"f":0},
      {"s":"REC","p":"SI","m":"Img-Only","r":0,"f":1},{"s":"REC","p":"SI","m":"Img-Only","r":62,"f":0.968},{"s":"REC","p":"SI","m":"Img-Only","r":127,"f":0.9},{"s":"REC","p":"SI","m":"Img-Only","r":200,"f":0.798},{"s":"REC","p":"SI","m":"Img-Only","r":247,"f":0.732},{"s":"REC","p":"SI","m":"Img-Only","r":279,"f":0.703},{"s":"REC","p":"SI","m":"Img-Only","r":323,"f":0.65},{"s":"REC","p":"SI","m":"Img-Only","r":400,"f":0.586},{"s":"REC","p":"SI","m":"Img-Only","r":442,"f":0.567},{"s":"REC","p":"SI","m":"Img-Only","r":518,"f":0.539},{"s":"REC","p":"SI","m":"Img-Only","r":600,"f":0.505},{"s":"REC","p":"SI","m":"Img-Only","r":649,"f":0.48},{"s":"REC","p":"SI","m":"Img-Only","r":714,"f":0.439},{"s":"REC","p":"SI","m":"Img-Only","r":801,"f":0.372},{"s":"REC","p":"SI","m":"Img-Only","r":839,"f":0.335},{"s":"REC","p":"SI","m":"Img-Only","r":877,"f":0.202},{"s":"REC","p":"SI","m":"Img-Only","r":921,"f":0.155},{"s":"REC","p":"SI","m":"Img-Only","r":1000,"f":0},
      {"s":"REC","p":"NV","m":"Same-Loss","r":0,"f":1},{"s":"REC","p":"NV","m":"Same-Loss","r":21,"f":0.949},{"s":"REC","p":"NV","m":"Same-Loss","r":42,"f":0.873},{"s":"REC","p":"NV","m":"Same-Loss","r":64,"f":0.703},{"s":"REC","p":"NV","m":"Same-Loss","r":86,"f":0.514},{"s":"REC","p":"NV","m":"Same-Loss","r":118,"f":0.325},{"s":"REC","p":"NV","m":"Same-Loss","r":162,"f":0.136},{"s":"REC","p":"NV","m":"Same-Loss","r":200,"f":0.023},{"s":"REC","p":"NV","m":"Same-Loss","r":271,"f":0.008},{"s":"REC","p":"NV","m":"Same-Loss","r":1000,"f":0},
      {"s":"REC","p":"NV","m":"Img-Only","r":0,"f":0.985},{"s":"REC","p":"NV","m":"Img-Only","r":21,"f":0.798},{"s":"REC","p":"NV","m":"Img-Only","r":42,"f":0.59},{"s":"REC","p":"NV","m":"Img-Only","r":75,"f":0.325},{"s":"REC","p":"NV","m":"Img-Only","r":118,"f":0.155},{"s":"REC","p":"NV","m":"Img-Only","r":162,"f":0.023},{"s":"REC","p":"NV","m":"Img-Only","r":200,"f":0.006},{"s":"REC","p":"NV","m":"Img-Only","r":1000,"f":0},
      {"s":"REC","p":"OC","m":"Same-Loss","r":0,"f":0.985},{"s":"REC","p":"OC","m":"Same-Loss","r":39,"f":0.911},{"s":"REC","p":"OC","m":"Same-Loss","r":61,"f":0.741},{"s":"REC","p":"OC","m":"Same-Loss","r":94,"f":0.514},{"s":"REC","p":"OC","m":"Same-Loss","r":126,"f":0.325},{"s":"REC","p":"OC","m":"Same-Loss","r":170,"f":0.155},{"s":"REC","p":"OC","m":"Same-Loss","r":200,"f":0.098},{"s":"REC","p":"OC","m":"Same-Loss","r":246,"f":0.051},{"s":"REC","p":"OC","m":"Same-Loss","r":322,"f":0.023},{"s":"REC","p":"OC","m":"Same-Loss","r":400,"f":0.013},{"s":"REC","p":"OC","m":"Same-Loss","r":1000,"f":0},
      {"s":"REC","p":"OC","m":"Img-Only","r":0,"f":0.985},{"s":"REC","p":"OC","m":"Img-Only","r":17,"f":0.836},{"s":"REC","p":"OC","m":"Img-Only","r":39,"f":0.609},{"s":"REC","p":"OC","m":"Img-Only","r":83,"f":0.287},{"s":"REC","p":"OC","m":"Img-Only","r":126,"f":0.155},{"s":"REC","p":"OC","m":"Img-Only","r":159,"f":0.013},{"s":"REC","p":"OC","m":"Img-Only","r":200,"f":0.004},{"s":"REC","p":"OC","m":"Img-Only","r":1000,"f":0}
    ]
  },
  "data": {"name": "runs"},
  "columns": 3,
  "bounds": "flush",
  "spacing": {"row": 253, "column": 31},
  "resolve": {"scale": {"color": "independent", "x": "independent", "y": "independent"}, "legend": {"color": "independent"}},
  "concat": [
    {
      "transform": [{"filter": "(datum.s==='CV'||datum.s==='B')&&datum.p==='SI'"}],
      "encoding": {
        "y": {"field": "f", "type": "quantitative", "scale": {"domain": [-0.015, 1.015], "nice": false, "zero": false}, "axis": {"values": [0, 0.2, 0.4, 0.6, 0.8, 1], "format": "~g", "title": ["Fraction of runs with", "expected return > R"]}},
        "color": {"field": "m", "type": "nominal",
          "scale": {"domain": ["V-CoRAL", "Same-Loss", "Img-Only", "Dreamer-v3", "DenoisedMDP", "RePo(I+P)", "RePo", "DreamerPro", "TIA"], "range": ["#1f77b4", "#9467bd", "#2ca02c", "#17becf", "#e377c2", "#bcbd22", "#8c564b", "#7f7f7f", "#000000"]},
          "legend": {"title": "Contrastive Variational Representations", "orient": "none", "legendX": -14, "legendY": -130, "columns": 5, "titlePadding": 12}}
      },
      "layer": [
        {"mark": {"type": "line", "strokeWidth": 6, "opacity": 0.22, "strokeJoin": "round"},
         "encoding": {"x": {"field": "r", "type": "quantitative", "scale": {"domain": [-8, 1007], "nice": false, "zero": false}, "axis": {"orient": "top", "title": "Standard Images", "labels": false, "ticks": false, "grid": false, "domain": false, "minExtent": 0, "titlePadding": 14, "titleBaseline": "alphabetic"}}}},
        {"mark": {"type": "line", "strokeWidth": 2.6, "strokeJoin": "round"},
         "encoding": {"x": {"field": "r", "type": "quantitative", "scale": {"domain": [-8, 1007], "nice": false, "zero": false}, "axis": {"values": [0, 200, 400, 600, 800, 1000], "format": ",d", "title": "Expected Return (R)"}}}}
      ],
      "resolve": {"axis": {"x": "independent"}}
    },
    {
      "transform": [{"filter": "(datum.s==='CV'||datum.s==='B')&&datum.p==='NV'"}],
      "encoding": {
        "y": {"field": "f", "type": "quantitative", "scale": {"domain": [-0.015, 1.015], "nice": false, "zero": false}, "axis": {"values": [0, 0.2, 0.4, 0.6, 0.8, 1], "format": "~g", "title": null}},
        "color": {"field": "m", "type": "nominal",
          "scale": {"domain": ["V-CoRAL", "Same-Loss", "Img-Only", "Dreamer-v3", "DenoisedMDP", "RePo(I+P)", "RePo", "DreamerPro", "TIA"], "range": ["#1f77b4", "#9467bd", "#2ca02c", "#17becf", "#e377c2", "#bcbd22", "#8c564b", "#7f7f7f", "#000000"]},
          "legend": null}
      },
      "layer": [
        {"mark": {"type": "line", "strokeWidth": 6, "opacity": 0.22, "strokeJoin": "round"},
         "encoding": {"x": {"field": "r", "type": "quantitative", "scale": {"domain": [-8, 1007], "nice": false, "zero": false}, "axis": {"orient": "top", "title": "Natural Video Background", "labels": false, "ticks": false, "grid": false, "domain": false, "minExtent": 0, "titlePadding": 14, "titleBaseline": "alphabetic"}}}},
        {"mark": {"type": "line", "strokeWidth": 2.6, "strokeJoin": "round"},
         "encoding": {"x": {"field": "r", "type": "quantitative", "scale": {"domain": [-8, 1007], "nice": false, "zero": false}, "axis": {"values": [0, 200, 400, 600, 800, 1000], "format": ",d", "title": "Expected Return (R)"}}}}
      ],
      "resolve": {"axis": {"x": "independent"}}
    },
    {
      "transform": [{"filter": "(datum.s==='CV'||datum.s==='B')&&datum.p==='OC'"}],
      "encoding": {
        "y": {"field": "f", "type": "quantitative", "scale": {"domain": [-0.015, 1.015], "nice": false, "zero": false}, "axis": {"values": [0, 0.2, 0.4, 0.6, 0.8, 1], "format": "~g", "title": null}},
        "color": {"field": "m", "type": "nominal",
          "scale": {"domain": ["V-CoRAL", "Same-Loss", "Img-Only", "Dreamer-v3", "DenoisedMDP", "RePo(I+P)", "RePo", "DreamerPro", "TIA"], "range": ["#1f77b4", "#9467bd", "#2ca02c", "#17becf", "#e377c2", "#bcbd22", "#8c564b", "#7f7f7f", "#000000"]},
          "legend": null}
      },
      "layer": [
        {"mark": {"type": "line", "strokeWidth": 6, "opacity": 0.22, "strokeJoin": "round"},
         "encoding": {"x": {"field": "r", "type": "quantitative", "scale": {"domain": [-8, 1007], "nice": false, "zero": false}, "axis": {"orient": "top", "title": "Occlusions", "labels": false, "ticks": false, "grid": false, "domain": false, "minExtent": 0, "titlePadding": 11, "titleBaseline": "alphabetic"}}}},
        {"mark": {"type": "line", "strokeWidth": 2.6, "strokeJoin": "round"},
         "encoding": {"x": {"field": "r", "type": "quantitative", "scale": {"domain": [-8, 1007], "nice": false, "zero": false}, "axis": {"values": [0, 200, 400, 600, 800, 1000], "format": ",d", "title": "Expected Return (R)"}}}}
      ],
      "resolve": {"axis": {"x": "independent"}}
    },
    {
      "transform": [{"filter": "(datum.s==='CPC'||datum.s==='B')&&datum.p==='SI'"}],
      "encoding": {
        "y": {"field": "f", "type": "quantitative", "scale": {"domain": [-0.015, 1.015], "nice": false, "zero": false}, "axis": {"values": [0, 0.2, 0.4, 0.6, 0.8, 1], "format": "~g", "title": ["Fraction of runs with", "expected return > R"]}},
        "color": {"field": "m", "type": "nominal",
          "scale": {"domain": ["P-CoRAL", "Same-Loss", "Img-Only", "Dreamer-v3", "DenoisedMDP", "RePo(I+P)", "RePo", "DreamerPro", "TIA"], "range": ["#1f77b4", "#9467bd", "#2ca02c", "#17becf", "#e377c2", "#bcbd22", "#8c564b", "#7f7f7f", "#000000"]},
          "legend": {"title": "Contrastive Predictive Coding Representations", "orient": "none", "legendX": -14, "legendY": -130, "columns": 5, "titlePadding": 12}}
      },
      "layer": [
        {"mark": {"type": "line", "strokeWidth": 6, "opacity": 0.22, "strokeJoin": "round"},
         "encoding": {"x": {"field": "r", "type": "quantitative", "scale": {"domain": [-8, 1007], "nice": false, "zero": false}, "axis": {"orient": "top", "title": "Standard Images", "labels": false, "ticks": false, "grid": false, "domain": false, "minExtent": 0, "titlePadding": 14, "titleBaseline": "alphabetic"}}}},
        {"mark": {"type": "line", "strokeWidth": 2.6, "strokeJoin": "round"},
         "encoding": {"x": {"field": "r", "type": "quantitative", "scale": {"domain": [-8, 1007], "nice": false, "zero": false}, "axis": {"values": [0, 200, 400, 600, 800, 1000], "format": ",d", "title": "Expected Return (R)"}}}}
      ],
      "resolve": {"axis": {"x": "independent"}}
    },
    {
      "transform": [{"filter": "(datum.s==='CPC'||datum.s==='B')&&datum.p==='NV'"}],
      "encoding": {
        "y": {"field": "f", "type": "quantitative", "scale": {"domain": [-0.015, 1.015], "nice": false, "zero": false}, "axis": {"values": [0, 0.2, 0.4, 0.6, 0.8, 1], "format": "~g", "title": null}},
        "color": {"field": "m", "type": "nominal",
          "scale": {"domain": ["P-CoRAL", "Same-Loss", "Img-Only", "Dreamer-v3", "DenoisedMDP", "RePo(I+P)", "RePo", "DreamerPro", "TIA"], "range": ["#1f77b4", "#9467bd", "#2ca02c", "#17becf", "#e377c2", "#bcbd22", "#8c564b", "#7f7f7f", "#000000"]},
          "legend": null}
      },
      "layer": [
        {"mark": {"type": "line", "strokeWidth": 6, "opacity": 0.22, "strokeJoin": "round"},
         "encoding": {"x": {"field": "r", "type": "quantitative", "scale": {"domain": [-8, 1007], "nice": false, "zero": false}, "axis": {"orient": "top", "title": "Natural Video Background", "labels": false, "ticks": false, "grid": false, "domain": false, "minExtent": 0, "titlePadding": 14, "titleBaseline": "alphabetic"}}}},
        {"mark": {"type": "line", "strokeWidth": 2.6, "strokeJoin": "round"},
         "encoding": {"x": {"field": "r", "type": "quantitative", "scale": {"domain": [-8, 1007], "nice": false, "zero": false}, "axis": {"values": [0, 200, 400, 600, 800, 1000], "format": ",d", "title": "Expected Return (R)"}}}}
      ],
      "resolve": {"axis": {"x": "independent"}}
    },
    {
      "transform": [{"filter": "(datum.s==='CPC'||datum.s==='B')&&datum.p==='OC'"}],
      "encoding": {
        "y": {"field": "f", "type": "quantitative", "scale": {"domain": [-0.015, 1.015], "nice": false, "zero": false}, "axis": {"values": [0, 0.2, 0.4, 0.6, 0.8, 1], "format": "~g", "title": null}},
        "color": {"field": "m", "type": "nominal",
          "scale": {"domain": ["P-CoRAL", "Same-Loss", "Img-Only", "Dreamer-v3", "DenoisedMDP", "RePo(I+P)", "RePo", "DreamerPro", "TIA"], "range": ["#1f77b4", "#9467bd", "#2ca02c", "#17becf", "#e377c2", "#bcbd22", "#8c564b", "#7f7f7f", "#000000"]},
          "legend": null}
      },
      "layer": [
        {"mark": {"type": "line", "strokeWidth": 6, "opacity": 0.22, "strokeJoin": "round"},
         "encoding": {"x": {"field": "r", "type": "quantitative", "scale": {"domain": [-8, 1007], "nice": false, "zero": false}, "axis": {"orient": "top", "title": "Occlusions", "labels": false, "ticks": false, "grid": false, "domain": false, "minExtent": 0, "titlePadding": 11, "titleBaseline": "alphabetic"}}}},
        {"mark": {"type": "line", "strokeWidth": 2.6, "strokeJoin": "round"},
         "encoding": {"x": {"field": "r", "type": "quantitative", "scale": {"domain": [-8, 1007], "nice": false, "zero": false}, "axis": {"values": [0, 200, 400, 600, 800, 1000], "format": ",d", "title": "Expected Return (R)"}}}}
      ],
      "resolve": {"axis": {"x": "independent"}}
    },
    {
      "transform": [{"filter": "(datum.s==='REC'||datum.s==='B')&&datum.p==='SI'"}],
      "encoding": {
        "y": {"field": "f", "type": "quantitative", "scale": {"domain": [-0.015, 1.015], "nice": false, "zero": false}, "axis": {"values": [0, 0.2, 0.4, 0.6, 0.8, 1], "format": "~g", "title": ["Fraction of runs with", "expected return > R"]}},
        "color": {"field": "m", "type": "nominal",
          "scale": {"domain": ["Same-Loss", "Img-Only", "Dreamer-v3", "DenoisedMDP", "RePo(I+P)", "RePo", "DreamerPro", "TIA"], "range": ["#9467bd", "#2ca02c", "#17becf", "#e377c2", "#bcbd22", "#8c564b", "#7f7f7f", "#000000"]},
          "legend": {"title": "Reconstruction-Based Representations", "orient": "none", "legendX": 85, "legendY": -168, "columns": 4, "titlePadding": 50}}
      },
      "layer": [
        {"mark": {"type": "line", "strokeWidth": 6, "opacity": 0.22, "strokeJoin": "round"},
         "encoding": {"x": {"field": "r", "type": "quantitative", "scale": {"domain": [-8, 1007], "nice": false, "zero": false}, "axis": {"orient": "top", "title": "Standard Images", "labels": false, "ticks": false, "grid": false, "domain": false, "minExtent": 0, "titlePadding": 14, "titleBaseline": "alphabetic"}}}},
        {"mark": {"type": "line", "strokeWidth": 2.6, "strokeJoin": "round"},
         "encoding": {"x": {"field": "r", "type": "quantitative", "scale": {"domain": [-8, 1007], "nice": false, "zero": false}, "axis": {"values": [0, 200, 400, 600, 800, 1000], "format": ",d", "title": "Expected Return (R)"}}}}
      ],
      "resolve": {"axis": {"x": "independent"}}
    },
    {
      "transform": [{"filter": "(datum.s==='REC'||datum.s==='B')&&datum.p==='NV'"}],
      "encoding": {
        "y": {"field": "f", "type": "quantitative", "scale": {"domain": [-0.015, 1.015], "nice": false, "zero": false}, "axis": {"values": [0, 0.2, 0.4, 0.6, 0.8, 1], "format": "~g", "title": null}},
        "color": {"field": "m", "type": "nominal",
          "scale": {"domain": ["Same-Loss", "Img-Only", "Dreamer-v3", "DenoisedMDP", "RePo(I+P)", "RePo", "DreamerPro", "TIA"], "range": ["#9467bd", "#2ca02c", "#17becf", "#e377c2", "#bcbd22", "#8c564b", "#7f7f7f", "#000000"]},
          "legend": null}
      },
      "layer": [
        {"mark": {"type": "line", "strokeWidth": 6, "opacity": 0.22, "strokeJoin": "round"},
         "encoding": {"x": {"field": "r", "type": "quantitative", "scale": {"domain": [-8, 1007], "nice": false, "zero": false}, "axis": {"orient": "top", "title": "Natural Video Background", "labels": false, "ticks": false, "grid": false, "domain": false, "minExtent": 0, "titlePadding": 14, "titleBaseline": "alphabetic"}}}},
        {"mark": {"type": "line", "strokeWidth": 2.6, "strokeJoin": "round"},
         "encoding": {"x": {"field": "r", "type": "quantitative", "scale": {"domain": [-8, 1007], "nice": false, "zero": false}, "axis": {"values": [0, 200, 400, 600, 800, 1000], "format": ",d", "title": "Expected Return (R)"}}}}
      ],
      "resolve": {"axis": {"x": "independent"}}
    },
    {
      "transform": [{"filter": "(datum.s==='REC'||datum.s==='B')&&datum.p==='OC'"}],
      "encoding": {
        "y": {"field": "f", "type": "quantitative", "scale": {"domain": [-0.015, 1.015], "nice": false, "zero": false}, "axis": {"values": [0, 0.2, 0.4, 0.6, 0.8, 1], "format": "~g", "title": null}},
        "color": {"field": "m", "type": "nominal",
          "scale": {"domain": ["Same-Loss", "Img-Only", "Dreamer-v3", "DenoisedMDP", "RePo(I+P)", "RePo", "DreamerPro", "TIA"], "range": ["#9467bd", "#2ca02c", "#17becf", "#e377c2", "#bcbd22", "#8c564b", "#7f7f7f", "#000000"]},
          "legend": null}
      },
      "layer": [
        {"mark": {"type": "line", "strokeWidth": 6, "opacity": 0.22, "strokeJoin": "round"},
         "encoding": {"x": {"field": "r", "type": "quantitative", "scale": {"domain": [-8, 1007], "nice": false, "zero": false}, "axis": {"orient": "top", "title": "Occlusions", "labels": false, "ticks": false, "grid": false, "domain": false, "minExtent": 0, "titlePadding": 11, "titleBaseline": "alphabetic"}}}},
        {"mark": {"type": "line", "strokeWidth": 2.6, "strokeJoin": "round"},
         "encoding": {"x": {"field": "r", "type": "quantitative", "scale": {"domain": [-8, 1007], "nice": false, "zero": false}, "axis": {"values": [0, 200, 400, 600, 800, 1000], "format": ",d", "title": "Expected Return (R)"}}}}
      ],
      "resolve": {"axis": {"x": "independent"}}
    }
  ],
  "config": {
    "font": "DejaVu Serif",
    "view": {"continuousWidth": 311, "continuousHeight": 182, "stroke": "#000000", "strokeWidth": 1},
    "axis": {"labelFont": "DejaVu Serif", "labelFontSize": 13.5, "labelColor": "#000000", "titleFont": "DejaVu Serif", "titleFontSize": 18, "titleFontWeight": "normal", "titleColor": "#000000", "titleLineHeight": 20, "grid": true, "gridColor": "#b0b0b0", "gridWidth": 1, "gridOpacity": 1, "tickColor": "#000000", "tickSize": 11, "domain": false, "labelPadding": 3},
    "axisX": {"titlePadding": 13, "labelPadding": 7},
    "axisY": {"titlePadding": 27},
    "legend": {"direction": "horizontal", "symbolType": "stroke", "symbolSize": 1849, "symbolStrokeWidth": 3, "symbolOpacity": 1, "clipHeight": 20, "labelFont": "DejaVu Serif", "labelFontSize": 18, "labelColor": "#000000", "labelOffset": 18, "labelLimit": 0, "columnPadding": 18, "rowPadding": 8, "titleFont": "DejaVu Serif", "titleFontSize": 23, "titleFontWeight": "normal", "titleColor": "#000000", "titleAnchor": "middle", "titleLimit": 0}
  }
}
